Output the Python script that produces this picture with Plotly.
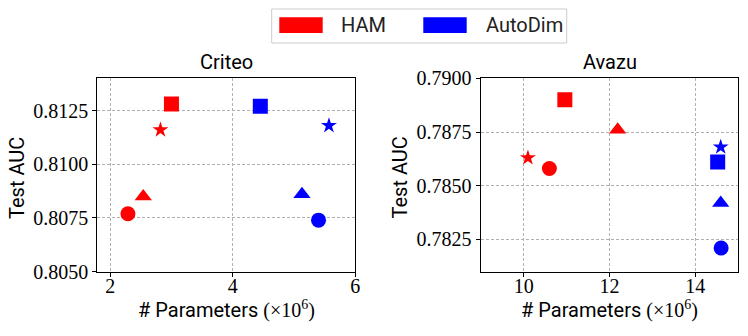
import plotly.graph_objects as go

# ---- data ----
methods = ["HAM", "AutoDim"]
method_colors = ["#ff0000", "#0000ff"]
variant_symbols = ["circle", "triangle-up", "star", "square"]
variant_sizes = [15, 15, 12, 15]

criteo_ham_params = [2.29, 2.54, 2.82, 3.00]
criteo_ham_auc = [0.8077, 0.8085, 0.8116, 0.8128]
criteo_autodim_params = [5.40, 5.13, 5.57, 4.45]
criteo_autodim_auc = [0.8074, 0.8086, 0.8118, 0.8127]

avazu_ham_params = [10.60, 12.19, 10.10, 10.96]
avazu_ham_auc = [0.7858, 0.7876, 0.7863, 0.7890]
avazu_autodim_params = [14.60, 14.59, 14.59, 14.52]
avazu_autodim_auc = [0.7821, 0.7842, 0.7868, 0.7861]

criteo_xticks = [2, 4, 6]
criteo_yticks = [0.8050, 0.8075, 0.8100, 0.8125]
avazu_xticks = [10, 12, 14]
avazu_yticks = [0.7825, 0.7850, 0.7875, 0.7900]

datasets = ["Criteo", "Avazu"]

W, H = 748, 336
def px(x):
    return x / W
def py(y):
    return 1 - y / H

SERIF = "Liberation Serif"
SANS = "Roboto"

fig = go.Figure()

panels = [
    ("x", "y", [(criteo_ham_params, criteo_ham_auc), (criteo_autodim_params, criteo_autodim_auc)]),
    ("x2", "y2", [(avazu_ham_params, avazu_ham_auc), (avazu_autodim_params, avazu_autodim_auc)]),
]
for xa, ya, series in panels:
    for mi, (xs, ys) in enumerate(series):
        for vi in range(len(xs)):
            fig.add_trace(go.Scatter(
                x=[xs[vi]], y=[ys[vi]], xaxis=xa, yaxis=ya, mode="markers",
                marker=dict(symbol=variant_symbols[vi], size=variant_sizes[vi],
                            color=method_colors[mi], line=dict(width=0)),
                showlegend=False, hoverinfo="x+y"))

axis_common = dict(
    showline=True, linecolor="#000000", linewidth=1.2, mirror=True,
    ticks="outside", ticklen=4, tickwidth=1, tickcolor="#000000",
    showgrid=True, gridcolor="#b0b0b0", gridwidth=0.7, griddash="3px,2px",
    zeroline=False, automargin=False,
    tickfont=dict(family=SERIF, size=20, color="#000000"),
)

L1, R1 = 97.3, 355.3
L2, R2 = 480.7, 738.3
T, B = 78.3, 271.7

fig.update_layout(
    width=W, height=H, margin=dict(l=0, r=0, t=0, b=0, autoexpand=False),
    paper_bgcolor="white", plot_bgcolor="white",
    showlegend=False,
    xaxis=dict(domain=[px(L1), px(R1)], range=[1.79, 6.0], tickvals=criteo_xticks,
               ticktext=[str(v) for v in criteo_xticks], anchor="y",
               ticklabelstandoff=-8, **axis_common),
    yaxis=dict(domain=[py(B), py(T)], range=[0.8050, 0.8140], tickvals=criteo_yticks,
               ticktext=[f"{v:.4f}" for v in criteo_yticks], anchor="x", **axis_common),
    xaxis2=dict(domain=[px(L2), px(R2)], range=[9.0, 15.0], tickvals=avazu_xticks,
                ticktext=[str(v) for v in avazu_xticks], anchor="y2",
                ticklabelstandoff=-8, **axis_common),
    yaxis2=dict(domain=[py(B), py(T)], range=[0.7810, 0.7900], tickvals=avazu_yticks,
                ticktext=[f"{v:.4f}" for v in avazu_yticks], anchor="x2", **axis_common),
)

annotations = []
xlabel = '# Parameters <span style="font-family:Liberation Serif">(×10<sup>6</sup>)</span>'
for (l, r), name, ylab_x in [((L1, R1), datasets[0], 17), ((L2, R2), datasets[1], 399.5)]:
    cx = (l + r) / 2
    annotations.append(dict(x=px(cx), y=py(62), xref="paper", yref="paper", text=name,
                            showarrow=False, xanchor="center", yanchor="middle",
                            font=dict(family=SANS, size=20, color="#000000")))
    annotations.append(dict(x=px(cx), y=py(309), xref="paper", yref="paper", text=xlabel,
                            showarrow=False, xanchor="center", yanchor="middle",
                            font=dict(family=SANS, size=20, color="#000000")))
    annotations.append(dict(x=px(ylab_x), y=py(178), xref="paper", yref="paper", text="Test AUC",
                            showarrow=False, xanchor="center", yanchor="middle", textangle=-90,
                            font=dict(family=SANS, size=20, color="#000000")))

# legend box
shapes = [dict(type="rect", xref="paper", yref="paper",
               x0=px(271.7), x1=px(566.7), y0=py(43), y1=py(9),
               line=dict(color="#cccccc", width=1), fillcolor="white", layer="above")]
patch_x = [279.3, 423.3]
text_x = [339, 484]
for i, m in enumerate(methods):
    shapes.append(dict(type="rect", xref="paper", yref="paper",
                       x0=px(patch_x[i]), x1=px(patch_x[i] + 43.4), y0=py(33), y1=py(17.3),
                       line=dict(width=0), fillcolor=method_colors[i], layer="above"))
    annotations.append(dict(x=px(text_x[i]), y=py(25), xref="paper", yref="paper", text=m,
                            showarrow=False, xanchor="left", yanchor="middle",
                            font=dict(family=SANS, size=20, color="#222222")))

fig.update_layout(annotations=annotations, shapes=shapes)
fig.write_html("out.html", config={"displayModeBar": False},
               post_script="document.body.style.margin='0px';")
